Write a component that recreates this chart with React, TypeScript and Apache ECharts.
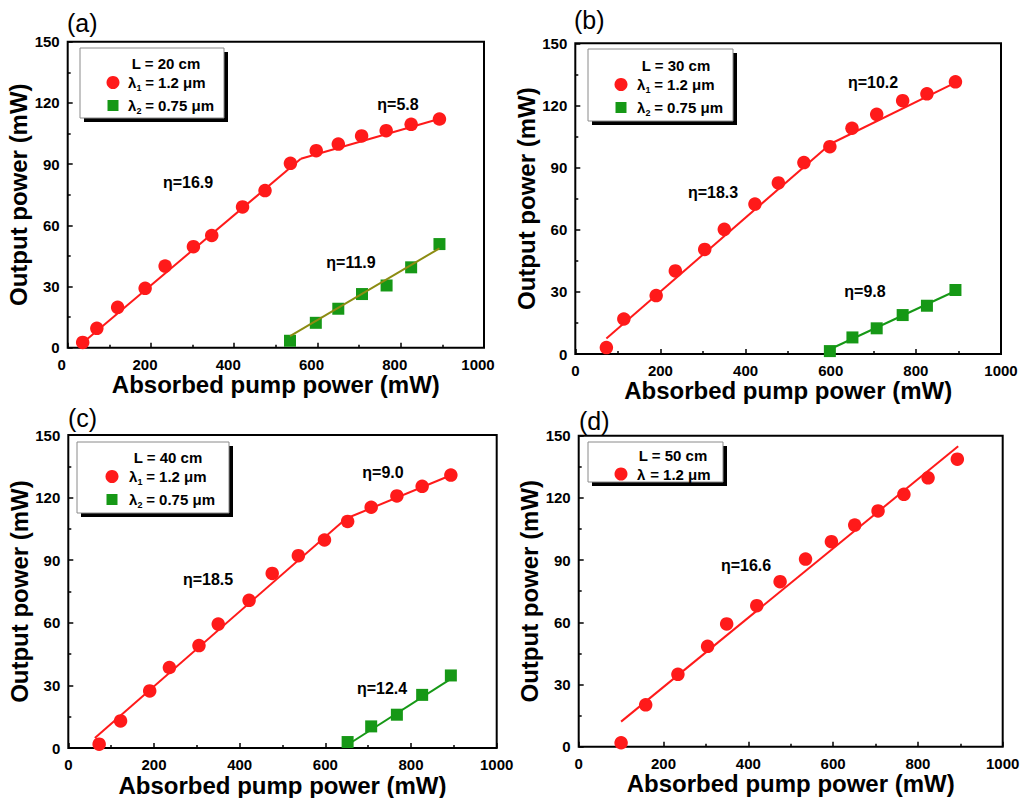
import React, { useEffect, useRef } from "react";
import * as echarts from "echarts";

// ---- Panel (a): L = 20 cm ----
const pumpA = [36, 70, 120, 186, 234, 302, 346, 420, 474, 535, 597, 650, 706, 765, 825, 893];
const redA = [2.6, 9.5, 19.8, 29.1, 40, 49.5, 55, 69, 77, 90.4, 96.6, 99.8, 103.8, 106.4, 109.5, 112.1];
const pumpGreenA = [534, 596, 650, 707, 766, 825, 893];
const greenA = [3.4, 12.2, 19.1, 26.3, 30.5, 39.4, 50.8];
const fitRedA1 = [[40, 3], [560, 92.6]];
const fitRedA2 = [[560, 92.6], [900, 112.6]];
const fitGreenA = [[534, 5.7], [893, 48.7]];

// ---- Panel (b): L = 30 cm ----
const pumpB = [73, 114, 190, 235, 304, 350, 422, 477, 537, 598, 650, 708, 769, 826, 893];
const redB = [3.1, 16.9, 28.2, 40.1, 50.5, 60.2, 72.4, 82.6, 92.4, 100.1, 109, 115.7, 122.3, 125.6, 131.4];
const pumpGreenB = [598, 651, 708, 769, 826, 893];
const greenB = [1.4, 8.0, 12.4, 18.8, 23.3, 30.9];
const fitRedB1 = [[73, 7.5], [600, 101.5]];
const fitRedB2 = [[600, 101.5], [893, 131]];
const fitGreenB = [[598, 2.3], [893, 30.4]];

// ---- Panel (c): L = 40 cm ----
const pumpC = [72, 122, 190, 236, 305, 350, 422, 476, 537, 598, 652, 707, 767, 826, 893];
const redC = [1.9, 13.0, 27.4, 38.6, 49.1, 59.4, 70.8, 83.7, 92.2, 99.7, 108.6, 115.4, 120.8, 125.4, 130.8];
const pumpGreenC = [652, 707, 767, 826, 893];
const greenC = [2.9, 10.4, 16, 25.5, 34.8];
const fitRedC1 = [[62, 4.8], [652, 110.6]];
const fitRedC2 = [[643, 109.5], [893, 130.7]];
const fitGreenC = [[652, 1.6], [893, 33.2]];

// ---- Panel (d): L = 50 cm ----
const pumpD = [100, 158, 234, 304, 349, 420, 475, 535, 596, 651, 706, 767, 824, 893];
const redD = [1.9, 20.2, 34.9, 48.4, 59.2, 68.0, 79.6, 90.5, 98.9, 106.9, 113.7, 121.7, 129.7, 138.7];
const fitRedD = [[100, 12.1], [895, 144.9]];

// Slope-efficiency labels per panel
const etaA = ["η=16.9", "η=5.8", "η=11.9"];
const etaB = ["η=18.3", "η=10.2", "η=9.8"];
const etaC = ["η=18.5", "η=9.0", "η=12.4"];
const etaD = ["η=16.6"];

const panelTags = ["(a)", "(b)", "(c)", "(d)"];
const cavityLengths = ["L = 20 cm", "L = 30 cm", "L = 40 cm", "L = 50 cm"];
const xTitle = "Absorbed pump power (mW)";
const yTitle = "Output power (mW)";

const FONT = "'Liberation Sans', Arial, Helvetica, sans-serif";
const RED = "#ff1a1a";
const GREEN = "#169816";
const OLIVE = "#8c8c12";
const LEG = 15;

type Rect = { left: number; top: number; width: number; height: number };

const grids: Rect[] = [
  { left: 67.7, top: 41.7, width: 416.3, height: 306 },
  { left: 575.3, top: 43.3, width: 425.7, height: 310.7 },
  { left: 68.3, top: 435, width: 428.4, height: 313.3 },
  { left: 578.7, top: 435.7, width: 424, height: 311 },
];

const zip = (xs: number[], ys: number[]) => xs.map((x, i) => [x, ys[i]]);

function scatter(idx: number, xs: number[], ys: number[], color: string, symbol: string, size: number) {
  return {
    type: "scatter",
    xAxisIndex: idx,
    yAxisIndex: idx,
    data: zip(xs, ys),
    symbol,
    symbolSize: size,
    itemStyle: { color, opacity: 1 },
    z: 3,
  };
}

function fit(idx: number, pts: number[][], color: string) {
  return {
    type: "line",
    xAxisIndex: idx,
    yAxisIndex: idx,
    data: pts,
    symbol: "none",
    lineStyle: { color, width: 2 },
    z: 4,
  };
}

function text(x: number, y: number, str: string, size: number, weight: string, align = "center", vAlign = "middle") {
  return {
    type: "text",
    x,
    y,
    z: 10,
    style: {
      text: str,
      fontSize: size,
      fontWeight: weight,
      fontFamily: FONT,
      fill: "#000",
      textAlign: align,
      textVerticalAlign: vAlign,
    },
  };
}

// λ with subscript index, then the rest of the entry
function lambdaEntry(x: number, y: number, sub: string, rest: string) {
  const out: any[] = [text(x, y, "λ", LEG, "bold", "left")];
  if (sub) {
    out.push(text(x + 8.5, y + 5, sub, 9, "bold", "left"));
    out.push(text(x + 13, y, rest, LEG, "bold", "left"));
  } else {
    out.push(text(x + 9, y, rest, LEG, "bold", "left"));
  }
  return out;
}

function legendBox(x: number, y: number, w: number, h: number) {
  return [
    { type: "rect", z: 8, shape: { x: x + 4, y: y + 4, width: w, height: h }, style: { fill: "#000" } },
    { type: "rect", z: 9, shape: { x, y, width: w, height: h }, style: { fill: "#fff", stroke: "#8a8a8a", lineWidth: 1 } },
  ];
}

function buildGraphics() {
  const g: any[] = [];
  // panel tags
  const tagPos = [
    [67, 22.5],
    [574, 19.5],
    [68, 417.5],
    [579, 420.5],
  ];
  tagPos.forEach(([x, y], i) => g.push(text(x, y, panelTags[i], 25, "normal", "left")));

  // legends
  const legends = [
    { x: 80, y: 48, w: 144, h: 70, cx: 166, ly: 63, mx: 113, tx: 128 },
    { x: 588, y: 49, w: 145, h: 72, cx: 676, ly: 65, mx: 621, tx: 637 },
    { x: 77, y: 442, w: 152, h: 71, cx: 168, ly: 457, mx: 112, tx: 129 },
  ];
  legends.forEach((L, i) => {
    g.push(...legendBox(L.x, L.y, L.w, L.h));
    g.push(text(L.cx, L.ly, cavityLengths[i], LEG, "bold"));
    g.push({ type: "circle", z: 10, shape: { cx: L.mx, cy: L.ly + 19.5, r: 6.5 }, style: { fill: RED } });
    g.push(...lambdaEntry(L.tx, L.ly + 19.5, "1", " = 1.2 μm"));
    g.push({ type: "rect", z: 10, shape: { x: L.mx - 5.5, y: L.ly + 37, width: 11, height: 11 }, style: { fill: GREEN } });
    g.push(...lambdaEntry(L.tx, L.ly + 42.5, "2", " = 0.75 μm"));
  });
  g.push(...legendBox(588, 442, 135, 40));
  g.push(text(673, 455, cavityLengths[3], LEG, "bold"));
  g.push({ type: "circle", z: 10, shape: { cx: 621, cy: 474, r: 6.5 }, style: { fill: RED } });
  g.push(...lambdaEntry(637, 474, "", " = 1.2 μm"));

  // slope-efficiency annotations
  const etaPos: [number, number, string][] = [
    [188, 182, etaA[0]], [398, 104, etaA[1]], [351, 262, etaA[2]],
    [713, 192, etaB[0]], [873, 82, etaB[1]], [865, 291, etaB[2]],
    [208, 579, etaC[0]], [383, 472, etaC[1]], [382, 688, etaC[2]],
    [746, 565, etaD[0]],
  ];
  etaPos.forEach(([x, y, s]) => g.push(text(x, y, s, 16, "bold")));
  return g;
}

function axisPair(i: number) {
  const labelBase = {
    color: "#000",
    fontSize: 15,
    fontWeight: "bold",
    fontFamily: FONT,
    formatter: (v: number) => String(v),
  };
  const tick = { show: true, inside: true, length: 5, lineStyle: { color: "#000", width: 1.5 } };
  const minor = { show: true, splitNumber: 2, length: 3, lineStyle: { color: "#000", width: 1.5 } };
  const x = {
    type: "value",
    gridIndex: i,
    min: 0,
    max: 1000,
    interval: 200,
    axisLine: { show: false },
    axisTick: tick,
    minorTick: minor,
    splitLine: { show: false },
    axisLabel: { ...labelBase, margin: 9, padding: i === 0 ? [0, 12, 0, 0] : 0 },
    name: xTitle,
    nameLocation: "middle",
    nameGap: 22,
    nameTextStyle: { color: "#000", fontSize: 24, fontWeight: "bold", fontFamily: FONT, verticalAlign: "top" },
  };
  const y = {
    type: "value",
    gridIndex: i,
    min: 0,
    max: 150,
    interval: 30,
    axisLine: { show: false },
    axisTick: tick,
    minorTick: minor,
    splitLine: { show: false },
    axisLabel: { ...labelBase, margin: 8 },
    name: yTitle,
    nameLocation: "middle",
    nameGap: 33,
    nameTextStyle: { color: "#000", fontSize: 24, fontWeight: "bold", fontFamily: FONT },
  };
  return { x, y };
}

export default function App() {
  const ref = useRef<HTMLDivElement>(null);
  useEffect(() => {
    if (!ref.current) return;
    const chart = echarts.init(ref.current, undefined, { renderer: "svg" });
    const axes = grids.map((_, i) => axisPair(i));
    chart.setOption({
      animation: false,
      backgroundColor: "#fff",
      grid: grids.map((r) => ({ ...r, show: true, borderColor: "#000", borderWidth: 2, backgroundColor: "transparent" })),
      xAxis: axes.map((a) => a.x),
      yAxis: axes.map((a) => a.y),
      series: [
        scatter(0, pumpA, redA, RED, "circle", 13.5),
        scatter(0, pumpGreenA, greenA, GREEN, "rect", 12),
        fit(0, fitRedA1, RED),
        fit(0, fitRedA2, RED),
        fit(0, fitGreenA, OLIVE),
        scatter(1, pumpB, redB, RED, "circle", 13.5),
        scatter(1, pumpGreenB, greenB, GREEN, "rect", 12),
        fit(1, fitRedB1, RED),
        fit(1, fitRedB2, RED),
        fit(1, fitGreenB, GREEN),
        scatter(2, pumpC, redC, RED, "circle", 13.5),
        scatter(2, pumpGreenC, greenC, GREEN, "rect", 12),
        fit(2, fitRedC1, RED),
        fit(2, fitRedC2, RED),
        fit(2, fitGreenC, GREEN),
        scatter(3, pumpD, redD, RED, "circle", 13.5),
        fit(3, fitRedD, RED),
      ],
      graphic: buildGraphics(),
    });
    return () => chart.dispose();
  }, []);
  return (
    <div
      ref={ref}
      style={{ position: "absolute", left: 0, top: 0, width: 1023, height: 798, background: "#fff" }}
    />
  );
}
